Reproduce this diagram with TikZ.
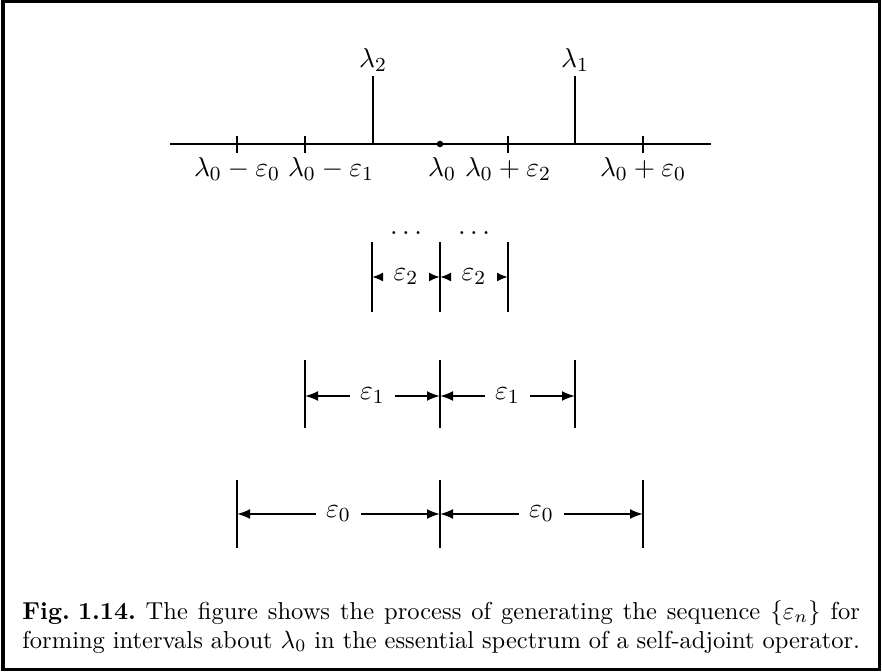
\documentclass[tikz,border=0pt]{standalone}
\usetikzlibrary{positioning, arrows.meta}

\begin{document}
\begin{tikzpicture}[
    x=0.4pt, y=-0.4pt,
    font=\fontsize{11}{13}\selectfont,
    line/.style={thick},
    ticklabel/.style={inner sep=0pt},
    dimlabel/.style={inner sep=4pt},
    dim/.style={
        -{Latex[length=5.2pt, width=4pt]},
        thick
    },
    smalldim/.style={
        -{Latex[length=4.4pt, width=3.6pt]},
        thick
    }
]

\useasboundingbox (0,0) rectangle (882,672);
\draw[line width=1.2pt] (3,2) rectangle (879,670);

% the real line
\coordinate (axl) at (170,144);
\coordinate (axr) at (711,144);
\coordinate (lam0) at (440,144);
\draw[line] (axl) -- (axr);
\fill (lam0) circle (1.3pt);

\foreach \x/\n in {237/m0, 305/m1, 508/p2, 643/p0}
    \draw[line] (\x,136) -- (\x,153) coordinate (\n);

\draw[line] (373,144) -- (373,76) coordinate (t2);
\draw[line] (575,144) -- (575,76) coordinate (t1);

\node[ticklabel, above=1.6pt of t2] (l2) {$\lambda_2$};
\node[ticklabel, above=1.6pt of t1] (l1) {$\lambda_1$};

\node[ticklabel, below=1.6pt of m0] (lm0) {$\lambda_0-\varepsilon_0$};
\node[ticklabel, below=1.6pt of m1, xshift=10.4pt] (lm1) {$\lambda_0-\varepsilon_1$};
\node[ticklabel, below=5.2pt of lam0, xshift=0.8pt] (l0) {$\lambda_0$};
\node[ticklabel, below=1.6pt of p2] (lp2) {$\lambda_0+\varepsilon_2$};
\node[ticklabel, below=1.6pt of p0] (lp0) {$\lambda_0+\varepsilon_0$};

% eps_2
\node (dots1) at (406,233) {$\dots$};
\node (dots2) at (474,233) {$\dots$};
\foreach \x in {372,440,508}
    \draw[line] (\x,242) -- (\x,312);
\coordinate (a2) at (372,277);
\coordinate (b2) at (440,277);
\coordinate (c2) at (508,277);
\path (a2) -- (b2) node[midway, dimlabel] (e2a) {$\varepsilon_2$};
\path (b2) -- (c2) node[midway, dimlabel] (e2b) {$\varepsilon_2$};
\draw[smalldim] (e2a) -- (a2);
\draw[smalldim] (e2a) -- (b2);
\draw[smalldim] (e2b) -- (b2);
\draw[smalldim] (e2b) -- (c2);

% eps_1
\foreach \x in {305,440,575}
    \draw[line] (\x,360) -- (\x,428);
\coordinate (a1) at (305,396);
\coordinate (b1) at (440,396);
\coordinate (c1) at (575,396);
\path (a1) -- (b1) node[midway, dimlabel] (e1a) {$\varepsilon_1$};
\path (b1) -- (c1) node[midway, dimlabel] (e1b) {$\varepsilon_1$};
\draw[dim] (e1a) -- (a1);
\draw[dim] (e1a) -- (b1);
\draw[dim] (e1b) -- (b1);
\draw[dim] (e1b) -- (c1);

% eps_0
\foreach \x in {237,440,643}
    \draw[line] (\x,480) -- (\x,548);
\coordinate (a0) at (237,514);
\coordinate (b0) at (440,514);
\coordinate (c0) at (643,514);
\path (a0) -- (b0) node[midway, dimlabel] (e0a) {$\varepsilon_0$};
\path (b0) -- (c0) node[midway, dimlabel] (e0b) {$\varepsilon_0$};
\draw[dim] (e0a) -- (a0);
\draw[dim] (e0a) -- (b0);
\draw[dim] (e0b) -- (b0);
\draw[dim] (e0b) -- (c0);

% caption
\node[anchor=north west, text width=335pt, align=justify, inner sep=0pt,
      font=\fontsize{9.8}{11.6}\selectfont] (cap) at (22,600)
    {\textbf{Fig.\hspace{0.33em}1.14.}\hspace{0.4em}The figure shows the process
     of generating the sequence $\{\varepsilon_n\}$ for\linebreak forming
     intervals about $\lambda_0$ in the essential spectrum of a self-adjoint
     operator.};

\end{tikzpicture}
\end{document}
